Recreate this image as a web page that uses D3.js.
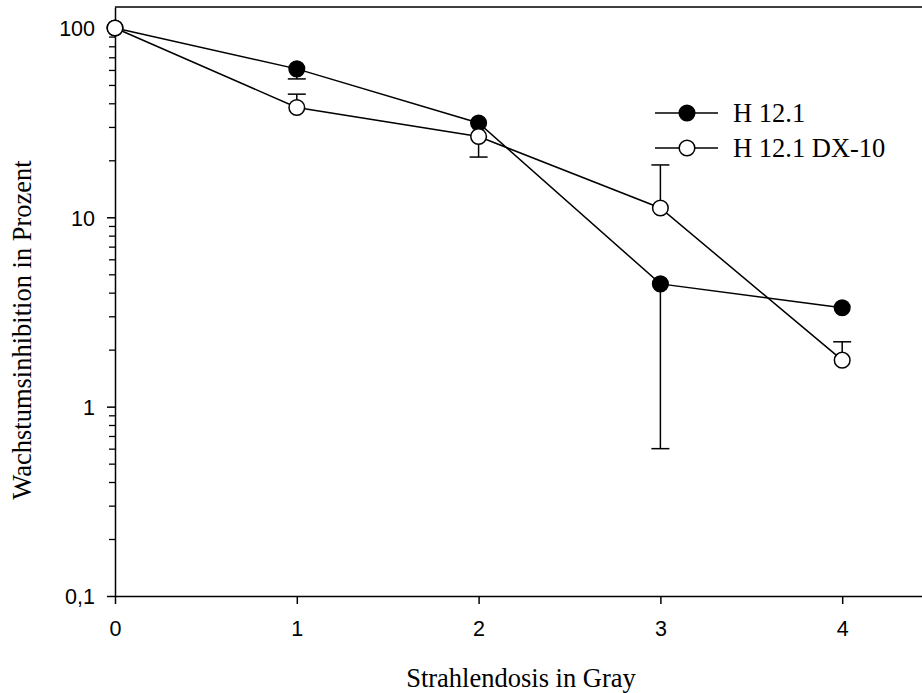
<!DOCTYPE html>
<html>
<head>
<meta charset="utf-8">
<script src="https://cdn.jsdelivr.net/npm/d3@7/dist/d3.min.js"></script>
<style>
  body { margin: 0; background: #fff; }
  svg { display: block; }
</style>
</head>
<body>
<svg id="chart" width="922" height="693"></svg>
<script>
// ---- Data ----
const doses = [0, 1, 2, 3, 4];
const seriesNames = ["H 12.1", "H 12.1 DX-10"];
const h121 = [100, 60.8, 31.5, 4.45, 3.33];
const h121ErrLow = [null, 53.8, null, 0.6, null];
const h121ErrHigh = [null, null, null, null, null];
const dx10 = [100, 38.0, 26.7, 11.2, 1.76];
const dx10ErrLow = [null, null, 20.8, null, null];
const dx10ErrHigh = [null, 44.7, null, 18.9, 2.2];
const xTicks = [0, 1, 2, 3, 4];
const yTicks = [0.1, 1, 10, 100];
const yTickLabels = ["0,1", "1", "10", "100"];
const xTitle = "Strahlendosis in Gray";
const yTitle = "Wachstumsinhibition in Prozent";

// ---- Layout ----
const svg = d3.select("#chart");
const mLeft = 115, mRight = 924, mTop = 7, mBottom = 596;
const x = d3.scaleLinear().domain([0, 4.45]).range([mLeft, mRight]);
const y = d3.scaleLog().domain([0.1, 129]).range([mBottom, mTop]);

const sans = "'Liberation Sans', Arial, sans-serif";
const serif = "'Liberation Serif', 'Times New Roman', serif";
const serifSize = 26.5;

// Top frame line
svg.append("line")
  .attr("x1", x(0)).attr("x2", x.range()[1])
  .attr("y1", y(y.domain()[1])).attr("y2", y(y.domain()[1]))
  .attr("stroke", "#000").attr("stroke-width", 1.5);

// Minor y ticks
const minor = [];
[0.1, 1, 10].forEach(d => { for (let k = 2; k <= 9; k++) minor.push(d * k); });
svg.append("g")
  .attr("transform", `translate(${mLeft},0)`)
  .call(d3.axisLeft(y).tickValues(minor).tickSize(6).tickFormat(""))
  .call(g => g.select(".domain").remove())
  .call(g => g.selectAll("line").attr("stroke-width", 1.3));

// Y axis
const yAxis = svg.append("g")
  .attr("transform", `translate(${mLeft},0)`)
  .call(d3.axisLeft(y).tickValues(yTicks).tickSize(8).tickPadding(12)
    .tickFormat((d, i) => yTickLabels[i]).tickSizeOuter(0));
yAxis.select(".domain").attr("stroke-width", 1.5);
yAxis.selectAll("line").attr("stroke-width", 1.5);
yAxis.selectAll("text").attr("font-family", sans).attr("font-size", 21.5).attr("fill", "#000").attr("dy", "0.36em");

// X axis
const xAxis = svg.append("g")
  .attr("transform", `translate(0,${mBottom})`)
  .call(d3.axisBottom(x).tickValues(xTicks).tickSize(8).tickPadding(17)
    .tickFormat(d3.format("d")).tickSizeOuter(0));
xAxis.select(".domain").attr("stroke-width", 1.5);
xAxis.selectAll("line").attr("stroke-width", 1.5);
xAxis.selectAll("text").attr("font-family", sans).attr("font-size", 21.5).attr("fill", "#000");

// Titles
svg.append("text")
  .attr("x", 521).attr("y", 687)
  .attr("text-anchor", "middle")
  .attr("font-family", serif).attr("font-size", serifSize)
  .text(xTitle);
svg.append("text")
  .attr("transform", `translate(31,330) rotate(-90)`)
  .attr("text-anchor", "middle")
  .attr("font-family", serif).attr("font-size", serifSize)
  .text(yTitle);

// Series drawing
const line = d3.line().x((d, i) => x(doses[i])).y(d => y(d));
const capW = 9;

function drawSeries(vals, errLow, errHigh, fill) {
  const g = svg.append("g");
  vals.forEach((v, i) => {
    [errLow[i], errHigh[i]].forEach(e => {
      if (e == null) return;
      g.append("line")
        .attr("x1", x(doses[i])).attr("x2", x(doses[i]))
        .attr("y1", y(v)).attr("y2", y(e))
        .attr("stroke", "#000").attr("stroke-width", 1.5);
      g.append("line")
        .attr("x1", x(doses[i]) - capW).attr("x2", x(doses[i]) + capW)
        .attr("y1", y(e)).attr("y2", y(e))
        .attr("stroke", "#000").attr("stroke-width", 1.5);
    });
  });
  g.append("path")
    .attr("d", line(vals))
    .attr("fill", "none").attr("stroke", "#000").attr("stroke-width", 1.5);
  g.selectAll("circle").data(vals).join("circle")
    .attr("cx", (d, i) => x(doses[i])).attr("cy", d => y(d))
    .attr("r", 7.8)
    .attr("fill", fill).attr("stroke", "#000").attr("stroke-width", 1.5);
}

drawSeries(h121, h121ErrLow, h121ErrHigh, "#000");
drawSeries(dx10, dx10ErrLow, dx10ErrHigh, "#fff");

// Legend
const legY = [113, 148];
const legFills = ["#000", "#fff"];
const leg = svg.append("g");
seriesNames.forEach((name, i) => {
  leg.append("line")
    .attr("x1", 655).attr("x2", 718).attr("y1", legY[i]).attr("y2", legY[i])
    .attr("stroke", "#000").attr("stroke-width", 1.5);
  leg.append("circle")
    .attr("cx", 687).attr("cy", legY[i]).attr("r", 7.8)
    .attr("fill", legFills[i]).attr("stroke", "#000").attr("stroke-width", 1.5);
  leg.append("text")
    .attr("x", 733).attr("y", legY[i]).attr("dy", "0.33em")
    .attr("font-family", serif).attr("font-size", serifSize)
    .text(name);
});
</script>
</body>
</html>
